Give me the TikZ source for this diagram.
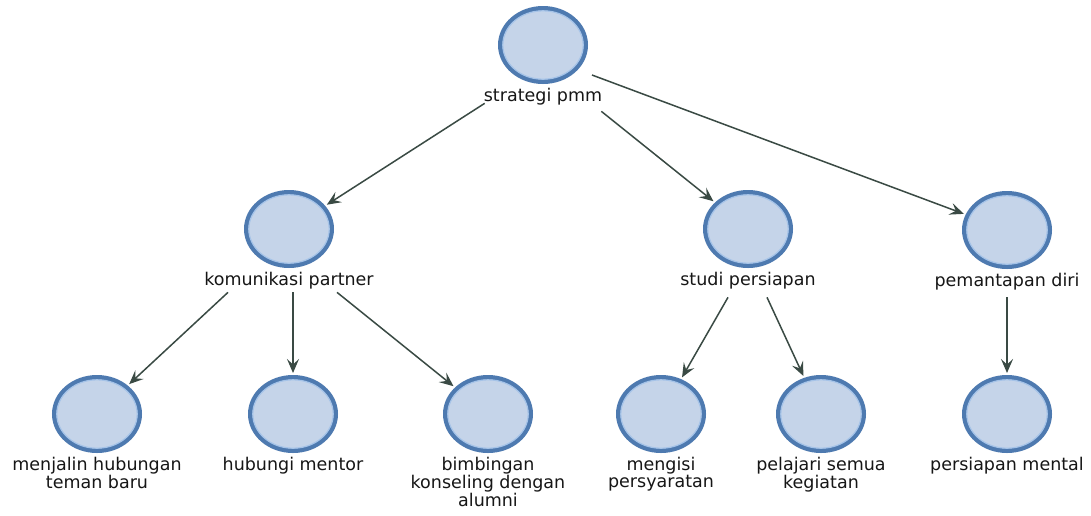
\documentclass[tikz,border=0pt]{standalone}
\usepackage{fontspec}
\setmainfont{DejaVu Sans}
\usetikzlibrary{shapes.geometric,arrows.meta,calc}

\definecolor{nodefill}{RGB}{197,212,233}
\definecolor{nodeline}{RGB}{78,122,176}
\definecolor{nodering}{RGB}{165,195,232}
\definecolor{arrowcol}{RGB}{58,74,68}
\definecolor{textcol}{RGB}{22,22,22}

\tikzset{
  topic/.style={ellipse, draw=nodeline, fill=nodefill, line width=4.5pt,
    minimum width=85.5pt, minimum height=73.5pt, inner sep=0pt},
  ring/.style={draw=nodering, line width=1.2pt},
  caption/.style={anchor=north, inner sep=0pt, align=center, text=textcol,
    font=\fontsize{17.5pt}{16.7pt}\selectfont},
  link/.style={draw=arrowcol, line width=1.5pt, shorten >=2pt,
    -{Stealth[length=14pt,width=12pt,inset=5.5pt]}}
}

\begin{document}
\begin{tikzpicture}[x=1pt,y=-1pt]
  \useasboundingbox (0,0) rectangle (1091,515);
  \fill[white] (0,0) rectangle (1091,515);

  % topic circles
  \node[topic] (top)   at (543,45)  {};
  \node[topic] (kom)   at (289,229) {};
  \node[topic] (studi) at (748,229) {};
  \node[topic] (pem)   at (1007,230) {};
  \node[topic] (b1)    at (97,414)  {};
  \node[topic] (b2)    at (293,414) {};
  \node[topic] (b3)    at (488,414) {};
  \node[topic] (b4)    at (661,414) {};
  \node[topic] (b5)    at (821,414) {};
  \node[topic] (b6)    at (1007,414) {};

  % light inner edge of every circle
  \foreach \n in {top,kom,studi,pem,b1,b2,b3,b4,b5,b6}
    \draw[ring] (\n.center) ellipse (40.2pt and 34.2pt);

  % captions under the circles
  \node[caption] (topl)   at ([yshift=-4pt]top.south)   {strategi pmm};
  \node[caption] (koml)   at ([yshift=-4pt]kom.south)   {komunikasi partner};
  \node[caption] (studil) at ([yshift=-4pt]studi.south) {studi persiapan};
  \node[caption] (peml)   at ([yshift=-4pt]pem.south)   {pemantapan diri};
  \node[caption] (b1l)    at ([yshift=-4pt]b1.south)    {menjalin hubungan\\teman baru};
  \node[caption] (b2l)    at ([yshift=-4pt]b2.south)    {hubungi mentor};
  \node[caption] (b3l)    at ([yshift=-4pt]b3.south)    {bimbingan\\konseling dengan\\alumni};
  \node[caption] (b4l)    at ([yshift=-4pt]b4.south)    {mengisi\\persyaratan};
  \node[caption] (b5l)    at ([yshift=-4pt]b5.south)    {pelajari semua\\kegiatan};
  \node[caption] (b6l)    at ([yshift=-4pt]b6.south)    {persiapan mental};

  % connectors
  \draw[link] ($(topl.south west)+(1,-2)$) -- (kom);
  \draw[link] ($(topl.south east)+(-1,6)$) -- (studi);
  \draw[link] ($(top.center)+(49,30)$) -- (pem);

  \draw[link] ($(koml.south)+(-61,3)$) -- (b1);
  \draw[link] ($(koml.south -| b2)+(0,3)$) -- (b2);
  \draw[link] ($(koml.south)+(48,3)$) -- (b3);

  \draw[link] ($(studil.south)+(-20,8)$) -- (b4);
  \draw[link] ($(studil.south)+(19,8)$) -- (b5);

  \draw[link] ($(peml.south -| b6)+(0,7)$) -- (b6);
\end{tikzpicture}
\end{document}
